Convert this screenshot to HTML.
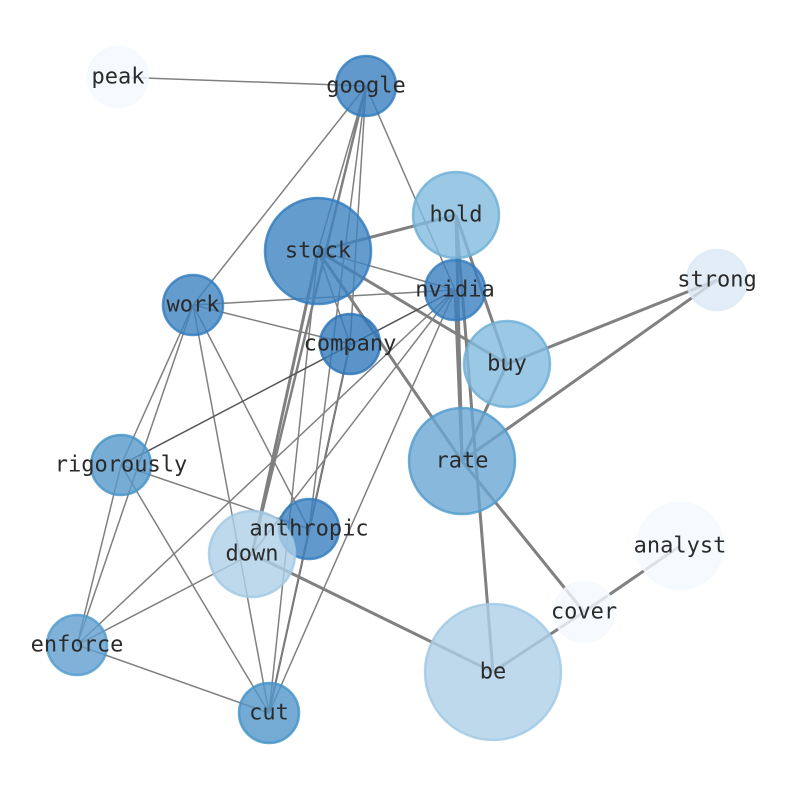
<!DOCTYPE html>
<html><head><meta charset="utf-8"><style>body{margin:0;background:#fff}svg{display:block}</style></head><body>
<svg width="794" height="790" xmlns="http://www.w3.org/2000/svg">
<g stroke="#808080" stroke-width="1.5" fill="none">
<line x1="118" y1="77" x2="366" y2="86"/>
<line x1="366" y1="86" x2="193" y2="305"/>
<line x1="366" y1="86" x2="318" y2="251"/>
<line x1="366" y1="86" x2="252" y2="554" stroke-width="2.5"/>
<line x1="366" y1="86" x2="309" y2="529"/>
<line x1="366" y1="86" x2="350" y2="344"/>
<line x1="366" y1="86" x2="455" y2="290"/>
<line x1="318" y1="251" x2="456" y2="215" stroke-width="3"/>
<line x1="318" y1="251" x2="455" y2="290"/>
<line x1="318" y1="251" x2="507" y2="364" stroke-width="3"/>
<line x1="318" y1="251" x2="462" y2="461" stroke-width="3"/>
<line x1="318" y1="251" x2="350" y2="344"/>
<line x1="318" y1="251" x2="252" y2="554" stroke-width="3"/>
<line x1="318" y1="251" x2="269" y2="713"/>
<line x1="193" y1="305" x2="455" y2="290"/>
<line x1="193" y1="305" x2="350" y2="344"/>
<line x1="193" y1="305" x2="121" y2="465"/>
<line x1="193" y1="305" x2="77" y2="645"/>
<line x1="193" y1="305" x2="269" y2="713"/>
<line x1="193" y1="305" x2="309" y2="529"/>
<line x1="121" y1="465" x2="455" y2="290" stroke="#555"/>
<line x1="350" y1="344" x2="269" y2="713" stroke="#555" stroke-width="2"/>
<line x1="350" y1="344" x2="309" y2="529"/>
<line x1="455" y1="290" x2="252" y2="554"/>
<line x1="455" y1="290" x2="77" y2="645"/>
<line x1="455" y1="290" x2="269" y2="713"/>
<line x1="455" y1="290" x2="462" y2="461" stroke-width="3"/>
<line x1="456" y1="215" x2="462" y2="461" stroke-width="3"/>
<line x1="456" y1="215" x2="507" y2="364" stroke-width="3"/>
<line x1="456" y1="215" x2="493" y2="672" stroke-width="3"/>
<line x1="507" y1="364" x2="717" y2="280" stroke-width="3"/>
<line x1="507" y1="364" x2="462" y2="461" stroke-width="3"/>
<line x1="462" y1="461" x2="717" y2="280" stroke-width="3"/>
<line x1="462" y1="461" x2="584" y2="612" stroke-width="3"/>
<line x1="121" y1="465" x2="77" y2="645"/>
<line x1="121" y1="465" x2="309" y2="529"/>
<line x1="121" y1="465" x2="269" y2="713"/>
<line x1="252" y1="554" x2="77" y2="645"/>
<line x1="252" y1="554" x2="493" y2="672" stroke-width="3"/>
<line x1="77" y1="645" x2="269" y2="713"/>
<line x1="680" y1="546" x2="584" y2="612" stroke-width="3"/>
<line x1="584" y1="612" x2="493" y2="672" stroke-width="3"/>
<line x1="309" y1="529" x2="269" y2="713"/>
</g>
<g stroke-width="2.5" fill-opacity="0.8" stroke-opacity="0.8">
<circle cx="118" cy="77" r="30" fill="#f4f9fe" stroke="#f4f9fe"/>
<circle cx="366" cy="86" r="30" fill="#3b80c0" stroke="#2f7bbd"/>
<circle cx="456" cy="215" r="43" fill="#82bade" stroke="#6aaed6"/>
<circle cx="318" cy="251" r="53" fill="#3e83c2" stroke="#2f7bbd"/>
<circle cx="717" cy="280" r="30" fill="#dce8f5" stroke="#dce8f5"/>
<circle cx="455" cy="290" r="30" fill="#3b80c0" stroke="#2f7bbd"/>
<circle cx="193" cy="305" r="30" fill="#3e83c2" stroke="#2f7bbd"/>
<circle cx="350" cy="344" r="30" fill="#3179bb" stroke="#2a72b6"/>
<circle cx="507" cy="364" r="43" fill="#82bade" stroke="#6aaed6"/>
<circle cx="121" cy="465" r="30" fill="#5599cb" stroke="#4292c6"/>
<circle cx="462" cy="461" r="53" fill="#6aa8d4" stroke="#4f9bcd"/>
<circle cx="309" cy="529" r="30" fill="#3b80c0" stroke="#2f7bbd"/>
<circle cx="252" cy="554" r="43" fill="#aed0e7" stroke="#a0c8e4"/>
<circle cx="680" cy="546" r="43" fill="#f4f9fe" stroke="#f4f9fe"/>
<circle cx="584" cy="612" r="30" fill="#f4f9fe" stroke="#f4f9fe"/>
<circle cx="77" cy="645" r="30" fill="#609fcf" stroke="#4f9bcd"/>
<circle cx="493" cy="672" r="68" fill="#aed0e7" stroke="#a0c8e4"/>
<circle cx="269" cy="713" r="30" fill="#5096c9" stroke="#4292c6"/>
</g>
<g font-family="DejaVu Sans Mono, Liberation Mono, monospace" font-size="22" fill="#2b2b2b" text-anchor="middle" dominant-baseline="central">
<text x="118" y="77">peak</text><text x="366" y="86">google</text><text x="456" y="215">hold</text>
<text x="318" y="251">stock</text><text x="717" y="280">strong</text><text x="455" y="290">nvidia</text>
<text x="193" y="305">work</text><text x="350" y="344">company</text><text x="507" y="364">buy</text>
<text x="121" y="465">rigorously</text><text x="462" y="461">rate</text><text x="309" y="529">anthropic</text>
<text x="252" y="554">down</text><text x="680" y="546">analyst</text><text x="584" y="612">cover</text>
<text x="77" y="645">enforce</text><text x="493" y="672">be</text><text x="269" y="713">cut</text>
</g>
</svg>
</body></html>
